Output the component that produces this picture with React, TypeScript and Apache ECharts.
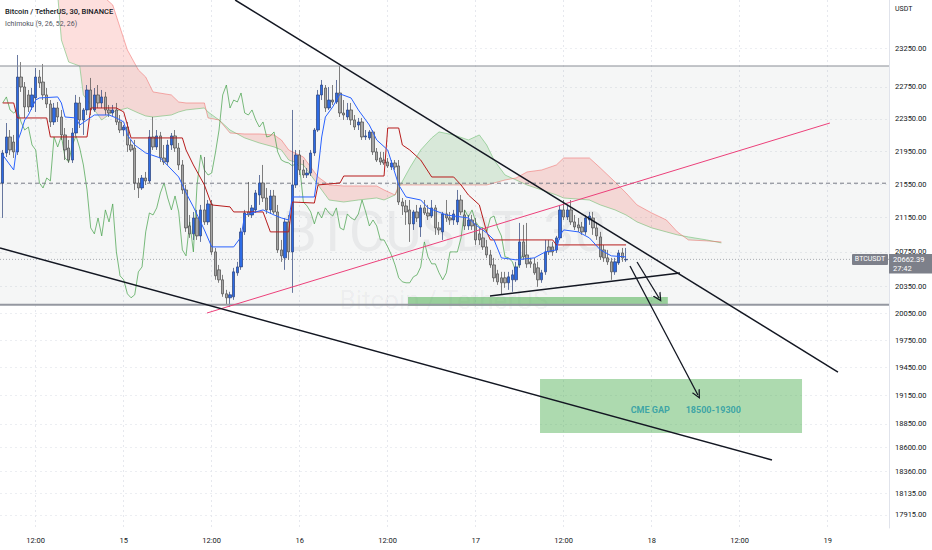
import React, { useEffect, useRef } from "react";
import * as echarts from "echarts";

// ---------- 30-minute BTCUSDT candles (from 14 Jun 07:30) ----------
const opens = [
  21563, 21927, 22124, 22062, 21940, 22877, 22750, 22649, 22498, 22611,
  22877, 22813, 22649, 22535, 22310, 22485, 22372, 22149, 21988, 21841,
  22173, 22548, 22335, 22460, 22712, 22460, 22649, 22548, 22624, 22460,
  22422, 22460, 22310, 22210, 22247, 22025, 21988, 21563, 21503, 21623,
  21587, 22124, 22001, 22137, 21866, 21817, 22025, 22137, 21988, 21781,
  21479, 21052, 20959, 21146, 20935, 21241, 21099, 21312, 20749, 20542,
  20428, 20269, 20224, 20235, 20508, 20576, 20982, 21217, 21181, 21241,
  21419, 21563, 21383, 21241, 21407, 21217, 20772, 20680, 21099, 20749,
  21539, 21903, 21720, 21659, 21683, 21927, 22210, 22649, 22737, 22485,
  22585, 22560, 22674, 22422, 22372, 22460, 22335, 22272, 22310, 22124,
  22112, 22186, 21940, 21866, 21841, 21817, 21756, 21805, 21769, 21335,
  21288, 21241, 21076, 21217, 21040, 21265, 21205, 21169, 21265, 21029,
  20982, 21193, 21146, 21122, 21099, 21359, 21181, 21052, 21122, 21076,
  20959, 20912, 20807, 20714, 20599, 20496, 20451, 20451, 20394, 20428,
  20428, 20599, 20865, 20714, 20634, 20611, 20565, 20428, 20519, 20807,
  20807, 20772, 20912, 21241, 21157, 21241, 21099, 21064, 21040, 20982,
  21122, 21146, 21029, 20923, 20772, 20680, 20634, 20519, 20622, 20737,
  20657,
];
const closes = [
  21927, 22124, 21964, 21940, 22877, 22750, 22498, 22498, 22649, 22877,
  22801, 22649, 22535, 22310, 22485, 22372, 22149, 21964, 21841, 22173,
  22548, 22335, 22460, 22712, 22460, 22649, 22548, 22624, 22460, 22422,
  22460, 22310, 22210, 22247, 22025, 21964, 21563, 21503, 21623, 21587,
  22124, 22001, 22137, 21866, 21817, 22025, 22137, 21988, 21781, 21479,
  21029, 20959, 21146, 20935, 21241, 21099, 21312, 20749, 20474, 20428,
  20269, 20224, 20258, 20519, 20576, 20982, 21205, 21181, 21265, 21443,
  21563, 21383, 21241, 21407, 21217, 20772, 20703, 21099, 20749, 21539,
  21903, 21720, 21659, 21683, 21927, 22210, 22649, 22775, 22485, 22585,
  22560, 22674, 22422, 22397, 22460, 22335, 22247, 22310, 22124, 22137,
  22186, 21940, 21841, 21817, 21805, 21769, 21805, 21756, 21335, 21288,
  21217, 21076, 21217, 21146, 21265, 21205, 21169, 21265, 21029, 21005,
  21193, 21146, 21122, 21193, 21359, 21217, 21052, 21122, 21052, 20888,
  20888, 20807, 20714, 20599, 20451, 20405, 20394, 20394, 20462, 20485,
  20576, 20865, 20691, 20611, 20611, 20508, 20428, 20508, 20749, 20749,
  20749, 20912, 21241, 21157, 21241, 21099, 21040, 21029, 20982, 21146,
  21169, 21029, 20935, 20691, 20680, 20634, 20519, 20634, 20737, 20680,
  20662.39,
];
const lows = [
  21146, 21878, 21903, 21866, 21903, 22687, 22360, 22435, 22460, 22435,
  22737, 22585, 22485, 22247, 22272, 22310, 22087, 21841, 21805, 21805,
  22137, 22235, 22149, 22397, 22397, 22435, 22485, 22485, 22397, 22372,
  22385, 22272, 22173, 22137, 21940, 21940, 21479, 21383, 21479, 21539,
  21563, 21964, 21964, 21817, 21781, 21781, 21964, 21940, 21720, 21431,
  20982, 20912, 20888, 20888, 20865, 21064, 21064, 20714, 20428, 20394,
  20235, 20145, 20123, 20201, 20474, 20542, 20947, 21157, 21146, 21205,
  21300, 21335, 21193, 21193, 21193, 20737, 20634, 20542, 20657, 20280,
  21503, 21659, 21623, 21623, 21647, 21891, 22186, 22585, 22435, 22460,
  22523, 22535, 22372, 22335, 22335, 22272, 22210, 22210, 22087, 22087,
  22087, 21903, 21817, 21781, 21781, 21744, 21720, 21720, 21300, 21181,
  21064, 20865, 21005, 21099, 20923, 21181, 21122, 21146, 20947, 20947,
  20888, 21099, 21064, 21064, 21064, 21181, 21005, 21005, 21005, 20830,
  20830, 20772, 20680, 20565, 20405, 20371, 20258, 20337, 20314, 20292,
  20405, 20565, 20657, 20565, 20565, 20485, 20348, 20394, 20485, 20714,
  20703, 20737, 20888, 21122, 21122, 21064, 21005, 20982, 20947, 20947,
  21064, 20947, 20888, 20657, 20634, 20599, 20428, 20485, 20599, 20634,
  20634,
];
const highs = [
  21964, 22297, 22210, 22149, 23160, 23069, 22813, 22712, 22737, 22993,
  22967, 23044, 22737, 22585, 22548, 22560, 22460, 22235, 22087, 22235,
  22649, 22624, 22485, 22775, 22865, 22737, 22775, 22712, 22687, 22523,
  22523, 22548, 22397, 22272, 22310, 22087, 22087, 21623, 21659, 21696,
  22210, 22372, 22210, 22186, 22025, 22087, 22173, 22210, 22050, 21841,
  21539, 21181, 21217, 21241, 21300, 21878, 21359, 21359, 20795, 20599,
  20485, 20314, 20292, 20565, 20634, 21029, 21241, 21575, 21300, 21479,
  21659, 21781, 21503, 21479, 21479, 21300, 20888, 21146, 21181, 22460,
  21964, 21964, 21841, 21744, 21964, 22235, 22712, 22839, 22775, 22750,
  22775, 22839, 23018, 22585, 22548, 22548, 22397, 22360, 22360, 22210,
  22210, 22210, 21988, 21940, 21940, 21866, 21841, 21841, 21841, 21383,
  21359, 21359, 21241, 21300, 21300, 21359, 21300, 21359, 21300, 21099,
  21217, 21359, 21217, 21241, 21479, 21419, 21241, 21181, 21181, 21146,
  21029, 21029, 20888, 20772, 20680, 20542, 20519, 20519, 20519, 20542,
  20634, 21087, 21064, 21087, 20680, 20680, 20634, 20542, 20888, 20888,
  20865, 20935, 21300, 21359, 21300, 21359, 21181, 21146, 21099, 21181,
  21217, 21217, 21099, 20982, 20830, 20772, 20680, 20680, 20772, 20795,
  20795,
];

// time is measured in hours from 14 Jun 00:00
const firstBarHour = 7.5;
const barStep = 0.5;
const chikouShift = 26;

// ---------- Ichimoku ----------
const tenkanHours = [7.5, 8, 9, 9.5, 10, 10.5, 11, 12, 12.5, 15, 15.5, 16, 17.5, 18, 19, 20, 22, 23, 24, 24.5, 25.5, 27, 29, 31.5, 32.5, 33.5, 35, 36, 39, 40, 40.5, 41.5, 43, 44.5, 45.5, 46.5, 47, 50, 50.5, 51, 51.5, 52.5, 53.5, 55, 56, 57.5, 58.5, 60, 61.5, 62.5, 64.5, 65.5, 68, 71, 72, 73.5, 74.5, 75.5, 77.5, 80, 81.5, 83, 83.5, 84, 86, 87.5, 89, 90.5, 92.5];
const tenkanValues = [21903, 21841, 21720, 22062, 22186, 22335, 22397, 22585, 22611, 22624, 22548, 22372, 22360, 22272, 22335, 22397, 22397, 22360, 22310, 22149, 22025, 21927, 21866, 21635, 21443, 21277, 21005, 20807, 20807, 20923, 21181, 21205, 21241, 21181, 21146, 21122, 21395, 21395, 21720, 22124, 22372, 22498, 22662, 22611, 22460, 22272, 22087, 21964, 21539, 21395, 21359, 21265, 21181, 21146, 21064, 20970, 20888, 20680, 20657, 20680, 20749, 20772, 20947, 21005, 20982, 20912, 20772, 20703, 20691];
const kijunHours = [7.5, 9, 9.5, 13.5, 14, 19, 19.5, 23, 24, 25, 32, 32.5, 33.5, 35, 36, 38.5, 39, 43, 43.5, 44, 46.5, 47, 50, 50.5, 53.5, 54, 59.5, 60, 61.5, 62, 63, 64.5, 66, 69, 70, 71, 72.5, 73.5, 74, 82.5, 83, 92.5];
const kijunValues = [22548, 22548, 22360, 22360, 22124, 22124, 22485, 22485, 22435, 22112, 22112, 21964, 21781, 21539, 21300, 21277, 21217, 21217, 21099, 20982, 20982, 21335, 21323, 21539, 21563, 21647, 21647, 22235, 22235, 22025, 21964, 21841, 21635, 21635, 21539, 21419, 21300, 20982, 20888, 20888, 20830, 20830];
const cloudHours = [15, 15.5, 16.5, 18, 18.5, 19.5, 21, 22.5, 24.5, 26, 27, 28, 30.5, 31.5, 32.5, 35, 35.5, 37, 38.5, 40.5, 42.5, 44.5, 45.5, 46.5, 48.5, 50.5, 52, 54, 56, 58.5, 59.5, 61, 61.5, 63, 64.5, 66, 67, 69, 71, 72.5, 73.5, 74.5, 76, 77.5, 79, 81, 83, 84, 87.5, 89, 91, 92.5, 94, 96, 98, 99.5, 101, 103.5, 105.5];
const spanA = [23949, 23355, 23069, 23018, 22649, 22523, 22335, 22435, 22485, 22422, 22385, 22372, 22397, 22435, 22460, 22485, 22435, 22335, 22210, 22112, 22050, 22001, 21964, 21841, 21781, 21539, 21359, 21335, 21359, 21383, 21359, 21419, 21503, 21744, 21964, 22112, 22186, 22149, 22087, 22149, 22025, 21841, 21659, 21599, 21539, 21479, 21419, 21383, 21359, 21300, 21241, 21181, 21099, 21029, 20982, 20947, 20923, 20888, 20853];
const spanB = [24695, 24627, 24490, 24354, 24218, 24083, 23949, 23816, 23225, 22967, 22877, 22687, 22649, 22560, 22548, 22548, 22360, 22335, 22173, 22161, 22161, 22149, 22087, 21964, 21878, 21635, 21539, 21527, 21527, 21527, 21479, 21419, 21539, 21539, 21539, 21539, 21539, 21539, 21539, 21539, 21539, 21563, 21599, 21623, 21696, 21720, 21781, 21866, 21866, 21744, 21575, 21443, 21300, 21205, 21122, 20982, 20888, 20877, 20865];

// ---------- axes ----------
const timeTicks = [12, 24, 36, 48, 60, 72, 84, 96, 108, 120];
const priceTicks = [23250, 22750, 22350, 21950, 21550, 21150, 20750, 20350, 20050, 19750, 19450, 19150, 18850, 18600, 18360, 18135, 17915];
const hourMin = 7.13;
const hourMax = 128.36;
const priceMin = 17785;
const priceMax = 23882;

// ---------- drawings (hour, price) ----------
const upperTrend = [[39.2, 23882], [121.4, 19403]];
const lowerTrend = [[7.13, 20794], [112.4, 18473]];
const pinkTrend = [[35.36, 20053], [120.3, 22297]];
const triangleBase = [[73.95, 20244], [99.86, 20506]];
const rangeTop = 23018;
const rangeBottom = 20145;
const dashedLevel = 21560;
const greenZone = [62.77, 20233, 98.2, 20131];
const cmeZone = [80.77, 19327, 116.5, 18753];
const arrowLines = [
  [94.0, 20632, 97.0, 20222],
  [93.04, 20586, 102.3, 19156],
];
const cmeTexts = ["CME GAP", "18500-19300"];
const cmeTextHours = [95.8, 104.4];
const cmeTextPrice = 18996;
const lastPrice = 20662.39;
const countdown = "27:42";

const FONT = "Roboto, 'Liberation Sans', Arial, sans-serif";
const L = (p: number) => Math.log(p);

export default function App() {
  const ref = useRef<HTMLDivElement>(null);

  useEffect(() => {
    const el = ref.current;
    if (!el) return;
    const chart = echarts.init(el, undefined, { renderer: "svg" });

    const barTime = (k: number) => firstBarHour + k * barStep;
    const candleData = opens.map((o, k) => [barTime(k), L(o), L(closes[k]), L(lows[k]), L(highs[k])]);
    const chikouData = closes.slice(chikouShift).map((c, i) => [barTime(i), L(c)]);
    const pts = (hs: number[], vs: number[]) => hs.map((h, i) => [h, L(vs[i])]);
    const seg = (s: number[][]) => s.map((p) => [p[0], L(p[1])]);
    const hline = (p: number) => [[hourMin, L(p)], [hourMax, L(p)]];

    const line = (data: any[], color: string, width: number, z: number, extra: any = {}) => ({
      type: "line",
      data,
      symbol: "none",
      showSymbol: false,
      silent: true,
      clip: true,
      z,
      lineStyle: { color, width, ...(extra.lineStyle || {}) },
    });

    const rectItem = (r: number[], color: string) => ({ value: [r[0], L(r[1]), r[2], L(r[3])], itemStyle: { color } });

    const cloudGreen = "rgba(67,160,71,0.16)";
    const cloudRed = "rgba(244,67,54,0.17)";

    const cloudRender = (params: any, api: any) => {
      const n = cloudHours.length;
      const A = spanA.map(L);
      const B = spanB.map(L);
      const children: any[] = [];
      let runTop: number[][] = [];
      let runBot: number[][] = [];
      let runUp = A[0] > B[0];
      const flush = () => {
        if (runTop.length > 1) {
          const poly = runTop.concat(runBot.slice().reverse()).map((p) => api.coord(p));
          children.push({ type: "polygon", shape: { points: poly }, style: { fill: runUp ? cloudGreen : cloudRed } });
        }
      };
      runTop.push([cloudHours[0], A[0]]);
      runBot.push([cloudHours[0], B[0]]);
      for (let i = 1; i < n; i++) {
        const d1 = A[i - 1] - B[i - 1];
        const d2 = A[i] - B[i];
        if (d1 * d2 < 0) {
          const t = d1 / (d1 - d2);
          const hx = cloudHours[i - 1] + t * (cloudHours[i] - cloudHours[i - 1]);
          const vx = A[i - 1] + t * (A[i] - A[i - 1]);
          runTop.push([hx, vx]);
          runBot.push([hx, vx]);
          flush();
          runUp = d2 > 0;
          runTop = [[hx, vx]];
          runBot = [[hx, vx]];
        }
        runTop.push([cloudHours[i], A[i]]);
        runBot.push([cloudHours[i], B[i]]);
      }
      flush();
      return { type: "group", children };
    };

    const rectRender = (params: any, api: any) => {
      const p1 = api.coord([api.value(0), api.value(1)]);
      const p2 = api.coord([api.value(2), api.value(3)]);
      return {
        type: "rect",
        shape: {
          x: Math.min(p1[0], p2[0]),
          y: Math.min(p1[1], p2[1]),
          width: Math.abs(p2[0] - p1[0]),
          height: Math.abs(p2[1] - p1[1]),
        },
        style: { fill: api.visual("color") },
      };
    };

    const arrowPath = "path://M0,10 L5,0 L10,10 L8.4,10 L5,3.2 L1.6,10 Z";

    const option: any = {
      animation: false,
      backgroundColor: "#ffffff",
      grid: { left: 0, right: 43, top: 0, bottom: 22, containLabel: false },
      xAxis: {
        type: "value",
        min: hourMin,
        max: hourMax,
        axisLine: { show: false },
        axisTick: { show: false, customValues: timeTicks },
        axisLabel: {
          customValues: timeTicks,
          formatter: (v: number) => {
            const r = Math.round(v);
            return r % 24 === 0 ? String(14 + r / 24) : "12:00";
          },
          color: "#131722",
          fontSize: 7.5,
          fontFamily: FONT,
          margin: 8,
        },
        splitLine: { show: true, lineStyle: { color: "#e6e8ee", width: 1, type: [2, 3] } },
      },
      yAxis: {
        type: "value",
        position: "right",
        min: L(priceMin),
        max: L(priceMax),
        axisLine: { show: true, lineStyle: { color: "#e0e3eb", width: 1 } },
        axisTick: { show: false, customValues: priceTicks.map(L) },
        axisLabel: {
          customValues: priceTicks.map(L),
          formatter: (v: number) => Math.exp(v).toFixed(2),
          color: "#131722",
          fontSize: 7.5,
          fontFamily: FONT,
          margin: 6,
          align: "left",
        },
        splitLine: { show: true, lineStyle: { color: "#eceef2", width: 1, type: [2, 3] } },
      },
      series: [
        {
          type: "custom",
          name: "zones",
          renderItem: rectRender,
          encode: { x: [0, 2], y: [1, 3] },
          clip: true,
          silent: true,
          z: 1,
          data: [rectItem([hourMin, rangeTop, hourMax, rangeBottom], "rgba(120,123,134,0.07)")],
        },
        {
          type: "custom",
          name: "cloud",
          renderItem: cloudRender,
          encode: { x: 0, y: 1 },
          clip: true,
          silent: true,
          z: 2,
          data: [[cloudHours[0], L(spanA[0])]],
        },
        line(pts(cloudHours, spanA), "rgba(102,187,106,0.55)", 1, 2),
        line(pts(cloudHours, spanB), "rgba(239,83,80,0.45)", 1, 2),
        line(chikouData, "rgba(67,160,71,0.7)", 1, 3),
        line(hline(dashedLevel), "#787b86", 1, 3, { lineStyle: { type: [4, 3] } }),
        line(hline(lastPrice), "rgba(120,123,134,0.6)", 1, 3, { lineStyle: { type: [1, 2] } }),
        {
          type: "candlestick",
          name: "BTCUSDT",
          data: candleData,
          encode: { x: 0, y: [1, 2, 3, 4] },
          barWidth: 2.6,
          silent: true,
          z: 4,
          itemStyle: {
            color: "#2d6be4",
            color0: "#a6a6a6",
            borderColor: "#283f78",
            borderColor0: "#4a4a4a",
            borderWidth: 0.7,
          },
        },
        line(pts(kijunHours, kijunValues), "#b71c1c", 1, 5),
        line(pts(tenkanHours, tenkanValues), "#2962ff", 1, 5),
        line(hline(rangeTop), "#8a8d96", 1.2, 6),
        line(hline(rangeBottom), "#9598a1", 2, 6),
        {
          type: "custom",
          name: "boxes",
          renderItem: rectRender,
          encode: { x: [0, 2], y: [1, 3] },
          clip: true,
          silent: true,
          z: 6,
          data: [rectItem(greenZone, "rgba(76,175,80,0.55)"), rectItem(cmeZone, "rgba(76,175,80,0.46)")],
        },
        line(seg(pinkTrend), "#ec407a", 1, 7),
        line(seg(upperTrend), "#131722", 1.5, 7),
        line(seg(lowerTrend), "#131722", 1.5, 7),
        line(seg(triangleBase), "#131722", 1.5, 7),
        {
          type: "lines",
          coordinateSystem: "cartesian2d",
          silent: true,
          z: 8,
          symbol: ["none", arrowPath],
          symbolSize: 9,
          lineStyle: { color: "#131722", width: 1.3, opacity: 1, curveness: 0 },
          data: arrowLines.map((a) => ({ coords: [[a[0], L(a[1])], [a[2], L(a[3])]] })),
        },
        {
          type: "scatter",
          silent: true,
          z: 8,
          symbol: "circle",
          symbolSize: 1,
          itemStyle: { color: "rgba(0,0,0,0)" },
          data: cmeTexts.map((t, i) => ({ value: [cmeTextHours[i], L(cmeTextPrice)], name: t })),
          label: {
            show: true,
            position: "inside",
            formatter: (p: any) => p.name,
            color: "#2196a3",
            fontSize: 9,
            fontWeight: "bold",
            fontFamily: FONT,
          },
        },
      ],
    };

    chart.setOption(option);

    const py = (chart.convertToPixel({ gridIndex: 0 } as any, [hourMax, L(lastPrice)]) as number[])[1];
    const tagColor = "#7d808a";

    chart.setOption({
      graphic: [
        {
          type: "text", x: 444, y: 232, z: 0, silent: true,
          style: { text: "BTCUSDT, 30", fontSize: 56, fontFamily: FONT, fill: "rgba(19,23,34,0.055)", align: "center", verticalAlign: "middle" },
        },
        {
          type: "text", x: 444, y: 300, z: 0, silent: true,
          style: { text: "Bitcoin / TetherUS", fontSize: 26, fontFamily: FONT, fill: "rgba(19,23,34,0.055)", align: "center", verticalAlign: "middle" },
        },
        {
          type: "text", x: 5, y: 11, z: 20, silent: true,
          style: { text: "Bitcoin / TetherUS, 30, BINANCE", fontSize: 7.5, fontWeight: 500, fontFamily: FONT, fill: "#131722", verticalAlign: "middle" },
        },
        {
          type: "text", x: 5, y: 24, z: 20, silent: true,
          style: { text: "Ichimoku (9, 26, 52, 26)", fontSize: 7, fontFamily: FONT, fill: "#50535e", verticalAlign: "middle" },
        },
        {
          type: "text", x: 895, y: 9, z: 20, silent: true,
          style: { text: "USDT", fontSize: 7, fontFamily: FONT, fill: "#131722", verticalAlign: "middle" },
        },
        {
          type: "rect", z: 20, silent: true,
          shape: { x: 852, y: py - 5.5, width: 36, height: 11, r: 1 },
          style: { fill: tagColor },
        },
        {
          type: "text", x: 870, y: py, z: 21, silent: true,
          style: { text: "BTCUSDT", fontSize: 7, fontFamily: FONT, fill: "#ffffff", align: "center", verticalAlign: "middle" },
        },
        {
          type: "rect", z: 20, silent: true,
          shape: { x: 889, y: py - 5.5, width: 43, height: 19.5 },
          style: { fill: tagColor },
        },
        {
          type: "text", x: 893, y: py, z: 21, silent: true,
          style: { text: lastPrice.toFixed(2), fontSize: 7.5, fontFamily: FONT, fill: "#ffffff", verticalAlign: "middle" },
        },
        {
          type: "text", x: 893, y: py + 9, z: 21, silent: true,
          style: { text: countdown, fontSize: 7.5, fontFamily: FONT, fill: "#ffffff", verticalAlign: "middle" },
        },
      ],
    });

    return () => chart.dispose();
  }, []);

  return (
    <div
      ref={ref}
      style={{ position: "fixed", left: 0, top: 0, width: 932, height: 550, background: "#ffffff" }}
    />
  );
}
